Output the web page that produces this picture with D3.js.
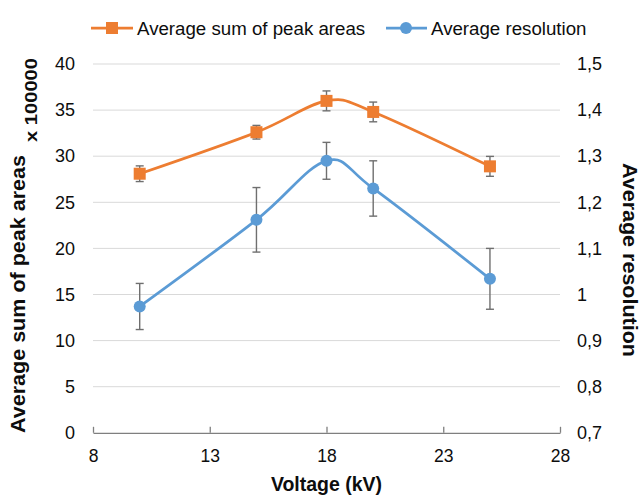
<!DOCTYPE html>
<html>
<head>
<style>
  body { margin: 0; background: #fff; }
  text { font-family: "Liberation Sans", Arial, sans-serif; fill: #0d0d0d; }
</style>
</head>
<body>
<svg id="chart" width="641" height="496"></svg>
<script src="https://d3js.org/d3.v7.min.js"></script>
<script>
// data
const voltage = [10, 15, 18, 20, 25]
const peakAreas = [28.1, 32.6, 36.0, 34.8, 28.9]
const peakAreasErr = [0.85, 0.74, 1.08, 1.07, 1.08]
const resolution = [0.974, 1.162, 1.290, 1.230, 1.034]
const resolutionErr = [0.050, 0.070, 0.040, 0.060, 0.066]
const xTicks = [8, 13, 18, 23, 28]
const leftTicks = [0, 5, 10, 15, 20, 25, 30, 35, 40]
const rightTicks = [0.7, 0.8, 0.9, 1.0, 1.1, 1.2, 1.3, 1.4, 1.5]

const orange = '#ED7D31'
const blue = '#5B9BD5'

const svg = d3.select('#chart')

const x = d3.scaleLinear().domain([8, 28]).range([93, 560])
const yL = d3.scaleLinear().domain([0, 40]).range([432.8, 64])
const yR = d3.scaleLinear().domain([0.7, 1.5]).range([432.8, 64])

const commaFmt = v => d3.format('.1f')(v).replace('.0', '').replace('.', ',')

// gridlines
svg.append('g')
  .selectAll('line')
  .data(leftTicks.filter(d => d > 0))
  .join('line')
  .attr('x1', x(8)).attr('x2', x(28))
  .attr('y1', d => yL(d)).attr('y2', d => yL(d))
  .attr('stroke', '#d9d9d9').attr('stroke-width', 1)

// x axis, ticks pointing up inside the plot
const xAxis = svg.append('g')
  .attr('transform', `translate(0,${yL(0)})`)
  .call(d3.axisBottom(x).tickValues(xTicks).tickSizeInner(-6).tickSizeOuter(0).tickPadding(17))
xAxis.select('.domain').attr('stroke', '#7f7f7f').attr('stroke-width', 1.3)
xAxis.selectAll('.tick line').attr('stroke', '#7f7f7f').attr('stroke-width', 1.3)
xAxis.selectAll('.tick text')
  .attr('font-size', 17.5).attr('fill', '#0d0d0d')
  .attr('font-family', '"Liberation Sans", Arial, sans-serif')

// left axis labels
const yLeft = svg.append('g')
  .attr('transform', 'translate(93,0)')
  .call(d3.axisLeft(yL).tickValues(leftTicks).tickSize(0).tickPadding(18))
yLeft.select('.domain').remove()
yLeft.selectAll('.tick text')
  .attr('font-size', 18).attr('fill', '#0d0d0d')
  .attr('font-family', '"Liberation Sans", Arial, sans-serif')

// right axis labels
const yRight = svg.append('g')
  .attr('transform', 'translate(560,0)')
  .call(d3.axisRight(yR).tickValues(rightTicks).tickSize(0).tickPadding(17).tickFormat(commaFmt))
yRight.select('.domain').remove()
yRight.selectAll('.tick text')
  .attr('font-size', 18).attr('fill', '#0d0d0d')
  .attr('font-family', '"Liberation Sans", Arial, sans-serif')

// lines
const curve = d3.curveCardinal.tension(0)
const lineL = d3.line().x((d, i) => x(voltage[i])).y(d => yL(d)).curve(curve)
const lineR = d3.line().x((d, i) => x(voltage[i])).y(d => yR(d)).curve(curve)

svg.append('path').datum(peakAreas)
  .attr('d', lineL).attr('fill', 'none').attr('stroke', orange).attr('stroke-width', 2.75)
svg.append('path').datum(resolution)
  .attr('d', lineR).attr('fill', 'none').attr('stroke', blue).attr('stroke-width', 2.75)

// error bars
function errorBars(vals, errs, scale) {
  const g = svg.append('g').attr('stroke', '#6f6f6f').attr('stroke-width', 1.4)
  vals.forEach((v, i) => {
    const cx = x(voltage[i])
    g.append('line').attr('x1', cx).attr('x2', cx)
      .attr('y1', scale(v - errs[i])).attr('y2', scale(v + errs[i]))
    ;[v - errs[i], v + errs[i]].forEach(e => {
      g.append('line').attr('x1', cx - 4).attr('x2', cx + 4)
        .attr('y1', scale(e)).attr('y2', scale(e))
    })
  })
}
errorBars(peakAreas, peakAreasErr, yL)
errorBars(resolution, resolutionErr, yR)

// markers
svg.append('g').selectAll('rect')
  .data(peakAreas)
  .join('rect')
  .attr('x', (d, i) => x(voltage[i]) - 6)
  .attr('y', d => yL(d) - 6)
  .attr('width', 12).attr('height', 12)
  .attr('fill', orange)

svg.append('g').selectAll('circle')
  .data(resolution)
  .join('circle')
  .attr('cx', (d, i) => x(voltage[i]))
  .attr('cy', d => yR(d))
  .attr('r', 6)
  .attr('fill', blue)

// legend
const legend = svg.append('g')
legend.append('line').attr('x1', 91).attr('x2', 133).attr('y1', 28).attr('y2', 28)
  .attr('stroke', orange).attr('stroke-width', 2.75)
legend.append('rect').attr('x', 106).attr('y', 22).attr('width', 12).attr('height', 12).attr('fill', orange)
legend.append('text').attr('x', 137).attr('y', 28).attr('dy', '0.35em')
  .attr('font-size', 18.7).text('Average sum of peak areas')
legend.append('line').attr('x1', 386).attr('x2', 427).attr('y1', 28).attr('y2', 28)
  .attr('stroke', blue).attr('stroke-width', 2.75)
legend.append('circle').attr('cx', 406).attr('cy', 28).attr('r', 6).attr('fill', blue)
legend.append('text').attr('x', 431).attr('y', 28).attr('dy', '0.35em')
  .attr('font-size', 18.7).text('Average resolution')

// axis titles
svg.append('text')
  .attr('x', x(18)).attr('y', 484).attr('dy', '0.35em')
  .attr('text-anchor', 'middle').attr('font-weight', 'bold').attr('font-size', 19.5)
  .text('Voltage (kV)')

svg.append('text')
  .attr('transform', 'translate(18,294) rotate(-90)')
  .attr('text-anchor', 'middle').attr('dy', '0.35em')
  .attr('font-weight', 'bold').attr('font-size', 20)
  .attr('textLength', 278).attr('lengthAdjust', 'spacingAndGlyphs')
  .text('Average sum of peak areas')

svg.append('text')
  .attr('transform', 'translate(31,100) rotate(-90)')
  .attr('text-anchor', 'middle').attr('dy', '0.35em')
  .attr('font-weight', 'bold').attr('font-size', 17)
  .attr('textLength', 84).attr('lengthAdjust', 'spacingAndGlyphs')
  .text('x 100000')

svg.append('text')
  .attr('transform', 'translate(630,260) rotate(90)')
  .attr('text-anchor', 'middle').attr('dy', '0.35em')
  .attr('font-weight', 'bold').attr('font-size', 20)
  .attr('textLength', 194).attr('lengthAdjust', 'spacingAndGlyphs')
  .text('Average resolution')
</script>
</body>
</html>
